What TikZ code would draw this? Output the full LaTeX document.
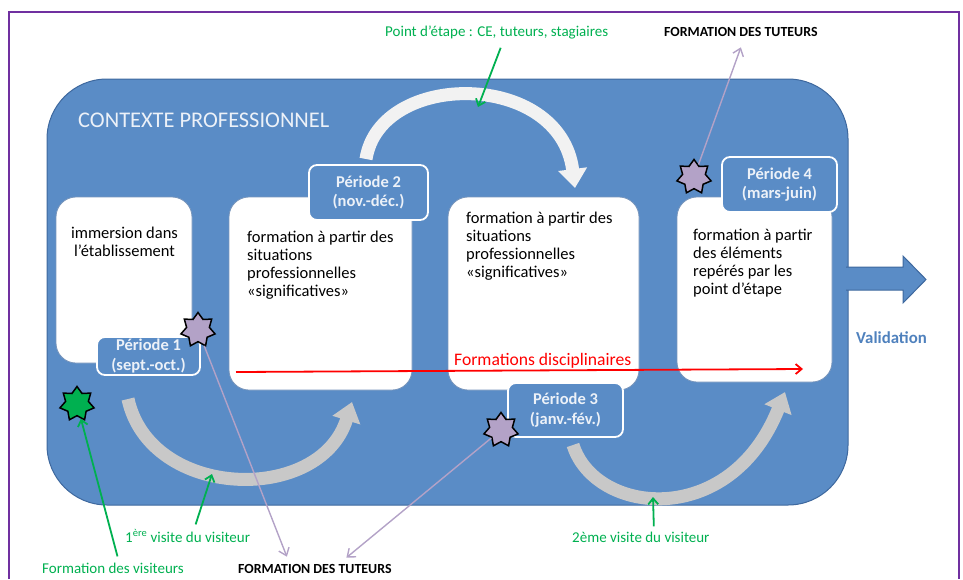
\documentclass[tikz,border=0pt]{standalone}
\usepackage{fontspec}
\setmainfont{Carlito}
\usetikzlibrary{arrows.meta,shapes.geometric}
\definecolor{ctxblue}{RGB}{90,140,198}
\definecolor{ctxedge}{RGB}{62,104,158}
\definecolor{framepurple}{RGB}{112,48,160}
\definecolor{lilac}{RGB}{179,162,199}
\definecolor{vgreen}{RGB}{0,176,80}
\definecolor{bandgray}{RGB}{200,200,200}
\definecolor{bandlight}{RGB}{242,242,242}
\definecolor{labeltext}{RGB}{236,241,248}
\definecolor{valblue}{RGB}{79,129,189}
\begin{document}
\begin{tikzpicture}[x=1pt,y=-1pt,
  whitebox/.style={rectangle,rounded corners=20pt,fill=white,draw=ctxedge!70,line width=0.8pt,inner sep=0pt},
  perlabel/.style={rectangle,rounded corners=8pt,fill=ctxblue,draw=white,line width=1.8pt,text=labeltext,font=\bfseries\fontsize{16.5}{19.5}\selectfont,align=center,inner sep=0pt},
  boxtext/.style={inner sep=0pt,font=\fontsize{16.5}{18}\selectfont,text=black},
  starnode/.style={star,star points=7,star point ratio=1.5,minimum size=35pt,inner sep=0pt,draw=black,line width=1.5pt},
  smalltext/.style={inner sep=0pt,anchor=base west,font=\fontsize{15}{17}\selectfont},
  smallbold/.style={inner sep=0pt,anchor=base west,font=\bfseries\fontsize{13.9}{16}\selectfont,text=black},
  greenarrow/.style={draw=vgreen,line width=1.8pt,-{Straight Barb[length=6pt,width=10pt]}},
  lilacarrow/.style={draw=lilac,line width=1.4pt,-{Straight Barb[length=7pt,width=11pt]}},
  redarrow/.style={draw=red,line width=1.8pt,-{Straight Barb[length=6pt,width=10pt]}},
  band/.style={line width=13pt,-{Triangle[width=28pt,length=19pt]}}
]
\useasboundingbox (0,0) rectangle (963,579);
% outer frame
\draw[framepurple,line width=2.5pt] (9,579) -- (9,12) -- (959,12) -- (959,579);
% professional context
\draw[fill=ctxblue,draw=ctxedge,line width=1pt,rounded corners=60pt] (47,79) rectangle (848,505);
\draw[fill=ctxblue,draw=ctxedge,line width=1pt] (846,267) -- (903,267) -- (903,256) -- (926,279.5) -- (903,303) -- (903,290) -- (846,290);
\node[anchor=base west,inner sep=0pt,text=labeltext,font=\fontsize{22.4}{26}\selectfont] (ctx) at (78,127) {CONTEXTE PROFESSIONNEL};
% curved arrows
\draw[band,bandgray] (128,399) .. controls (150,500) and (320,505) .. (352,402);
\draw[band,bandlight] (366,159) .. controls (380,70) and (560,70) .. (575,188);
\draw[band,bandgray] (573,445) .. controls (595,515) and (730,530) .. (785,392);
% white boxes
\node[whitebox,minimum width=136pt,minimum height=166pt] (b1) at (124,280) {};
\node[whitebox,minimum width=183pt,minimum height=193pt] (b2) at (320.5,293.5) {};
\node[whitebox,minimum width=191pt,minimum height=193pt] (b3) at (543.5,293.5) {};
\node[whitebox,minimum width=155pt,minimum height=185pt] (b4) at (754.5,289.5) {};
\node[boxtext,anchor=north,align=center] (t1) at (124.5,226.5) {immersion dans\\l’établissement};
\node[boxtext,anchor=north west,align=left] (t2) at (247,230.5) {formation à partir des\\situations\\professionnelles\\«significatives»};
\node[boxtext,anchor=north west,align=left] (t3) at (466,211.5) {formation à partir des\\situations\\professionnelles\\«significatives»};
\node[boxtext,anchor=north west,align=left] (t4) at (693,228.5) {formation à partir\\des éléments\\repérés par les\\point d’étape};
% disciplinary training
\coordinate (rs) at (236,372);
\coordinate (re) at (803,369);
\draw[redarrow] (rs) -- (re);
\node[anchor=base west,inner sep=0pt,text=red,font=\fontsize{17.6}{20}\selectfont] (fd) at (454,365) {Formations disciplinaires};
% period labels
\node[perlabel,minimum width=103pt,minimum height=38pt] (p1) at (148.5,356) {Période 1\\(sept.-oct.)};
\node[perlabel,minimum width=119pt,minimum height=55pt] (p2) at (368.5,192.5) {Période 2\\(nov.-déc.)};
\node[perlabel,minimum width=115pt,minimum height=54pt] (p3) at (565.5,410) {Période 3\\(janv.-fév.)};
\node[perlabel,minimum width=115pt,minimum height=55pt] (p4) at (779.5,184.5) {Période 4\\(mars-juin)};
% stars
\node[starnode,fill=lilac] (s1) at (198,330) {};
\node[starnode,fill=vgreen] (s0) at (77,404) {};
\node[starnode,fill=lilac] (s3) at (501,430) {};
\node[starnode,fill=lilac] (s4) at (694,177) {};
% outside texts
\node[smalltext,text=vgreen] (pe) at (385,36) {Point d’étape : CE, tuteurs, stagiaires};
\node[smallbold] (ft1) at (664,36) {FORMATION DES TUTEURS};
\node[smallbold] (ft2) at (238,573) {FORMATION DES TUTEURS};
\node[smalltext,text=vgreen] (fv) at (42,573) {Formation des visiteurs};
\node[smalltext,text=vgreen] (v1) at (125,542) {1\textsuperscript{ère} visite du visiteur};
\node[smalltext,text=vgreen] (v2) at (572,542) {2ème visite du visiteur};
\node[anchor=base west,inner sep=0pt,text=valblue,font=\bfseries\fontsize{16.8}{19}\selectfont] (val) at (856,343) {Validation};
% connectors
\coordinate (petip) at (478,107);
\coordinate (v1tip) at (212,474);
\coordinate (v2tip) at (653,497);
\draw[greenarrow] ([xshift=4pt,yshift=-9pt]pe.south) -- (petip);
\draw[greenarrow] ([xshift=4.5pt,yshift=6pt]fv.north) -- (s0);
\draw[greenarrow] ([xshift=8pt,yshift=5pt]v1.north) -- (v1tip);
\draw[greenarrow] ([xshift=13pt,yshift=5pt]v2.north) -- (v2tip);
\draw[lilacarrow] (s4) -- ([yshift=-11pt]ft1.south);
\draw[lilacarrow] (s1) -- ([xshift=-28pt,yshift=7pt]ft2.north);
\draw[lilacarrow] (s3) -- ([xshift=31.5pt,yshift=6pt]ft2.north);
\end{tikzpicture}
\end{document}
